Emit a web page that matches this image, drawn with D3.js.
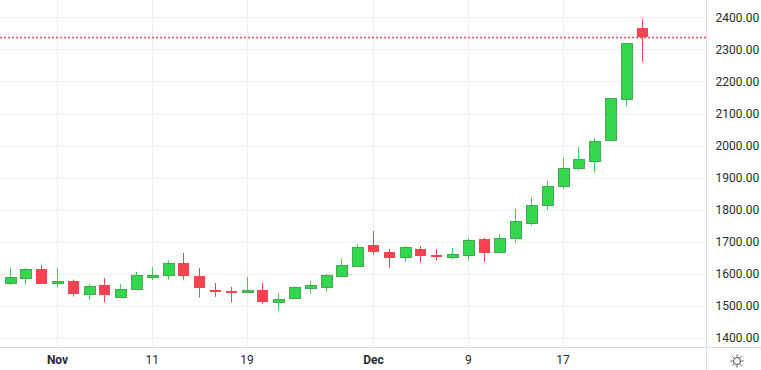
<!DOCTYPE html>
<html>
    <head>
        <title>candles</title>
        <script src="https://d3js.org/d3.v7.min.js"></script>
        <style>
            body { margin: 0; background: #ffffff; }
            #myCanvas { display: block; }
            text { font-family: Roboto, "Open Sans", sans-serif; font-size: 12px; fill: #2a2a2a; }
            .month { font-weight: bold; }
        </style>
    </head>
    <body>
        <svg id="myCanvas" width="761" height="370"></svg>
        <script>
            // bars: Sun-Thu trading days, Oct 29 - Dec 24
            dates = ["2024-10-29","2024-10-30","2024-10-31","2024-11-03","2024-11-04","2024-11-05","2024-11-06","2024-11-07",
                     "2024-11-10","2024-11-11","2024-11-12","2024-11-13","2024-11-14","2024-11-17","2024-11-18","2024-11-19",
                     "2024-11-20","2024-11-21","2024-11-24","2024-11-25","2024-11-26","2024-11-27","2024-11-28","2024-12-01",
                     "2024-12-02","2024-12-03","2024-12-04","2024-12-05","2024-12-08","2024-12-09","2024-12-10","2024-12-11",
                     "2024-12-12","2024-12-15","2024-12-16","2024-12-17","2024-12-18","2024-12-19","2024-12-22","2024-12-23","2024-12-24"];
            opens  = [1572.7,1588.3,1615.4,1574.9,1578.1,1536.6,1565.6,1529.1,1554.0,1594.6,1595.8,1634.2,1593.6,1550.9,1547.8,1546.9,
                      1550.0,1513.5,1524.1,1557.2,1560.3,1594.6,1625.7,1690.3,1668.4,1651.9,1677.8,1659.1,1650.7,1660.0,1709.0,1669.4,
                      1711.1,1757.9,1814.0,1872.0,1929.3,1949.9,2016.0,2146.3,2366.6];
            highs  = [1619.5,1618.6,1627.9,1618.6,1582.1,1568.7,1587.4,1568.7,1606.1,1621.7,1641.3,1665.3,1618.6,1571.8,1559.3,1590.5,
                      1571.8,1540.6,1562.5,1578.1,1599.9,1647.6,1693.4,1733.9,1677.8,1687.1,1687.1,1677.8,1680.9,1711.1,1712.1,1723.6,
                      1802.5,1836.8,1889.7,1961.4,1995.7,2023.8,2148.0,2321.0,2394.7];
            lows   = [1565.6,1566.5,1567.5,1557.2,1529.1,1519.8,1510.4,1526.0,1550.9,1580.2,1582.1,1582.1,1526.0,1528.2,1510.4,1538.5,
                      1506.4,1485.5,1523.0,1538.5,1544.7,1591.5,1622.6,1660.0,1619.5,1638.2,1635.1,1641.3,1644.4,1641.3,1638.2,1663.1,
                      1697.4,1750.4,1799.4,1865.7,1921.9,1915.6,2015.0,2123.5,2261.6];
            closes = [1590.5,1615.4,1568.7,1578.1,1538.5,1562.5,1535.3,1553.1,1596.7,1596.7,1634.2,1594.6,1557.2,1546.9,1544.7,1550.9,
                      1513.5,1521.9,1559.3,1565.6,1596.7,1627.9,1684.0,1669.4,1650.7,1683.0,1656.9,1652.9,1661.3,1705.8,1666.3,1713.0,
                      1764.1,1814.0,1873.2,1929.3,1957.4,2013.5,2147.5,2320.5,2340.0];

            priceTicks = [1400, 1500, 1600, 1700, 1800, 1900, 2000, 2100, 2200, 2300, 2400];
            timeTickDates = ["2024-11-03", "2024-11-11", "2024-11-19", "2024-12-01", "2024-12-09", "2024-12-17"];
            timeTickLabels = ["Nov", "11", "19", "Dec", "9", "17"];
            lastPrice = closes[closes.length - 1];

            upColor = "#32d74b";
            upBorder = "#46a852";
            downColor = "#f7434f";

            svg = d3.select("#myCanvas");
            w = 761; h = 370;
            plotRight = 706.5;
            plotBottom = 347.5;

            x = d3.scaleLinear([0, dates.length - 1], [9.6, 641.6]);
            y = d3.scaleLinear([1400, 2400], [338, 17.3]);

            data = dates.map((d, i) => ({date: d, i: i, o: opens[i], h: highs[i], l: lows[i], c: closes[i]}));

            // grid
            svg.append("g")
                .selectAll("line")
                .data(priceTicks)
                .join("line")
                    .attr("x1", 0).attr("x2", plotRight)
                    .attr("y1", d => Math.round(y(d)) + 0.5)
                    .attr("y2", d => Math.round(y(d)) + 0.5)
                    .attr("stroke", "#efefef");

            svg.append("g")
                .selectAll("line")
                .data(timeTickDates)
                .join("line")
                    .attr("x1", d => Math.round(x(dates.indexOf(d))) + 0.5)
                    .attr("x2", d => Math.round(x(dates.indexOf(d))) + 0.5)
                    .attr("y1", 0).attr("y2", plotBottom)
                    .attr("stroke", "#efefef");

            // last price line
            svg.append("line")
                .attr("x1", 0).attr("x2", plotRight)
                .attr("y1", Math.round(y(lastPrice)) + 0.5)
                .attr("y2", Math.round(y(lastPrice)) + 0.5)
                .attr("stroke", downColor)
                .attr("stroke-width", 1.3)
                .attr("stroke-dasharray", "2,2");

            // candles
            candle = svg.append("g")
                .selectAll("g")
                .data(data)
                .join("g");

            candle.append("line")
                .attr("x1", d => Math.round(x(d.i)) + 0.5)
                .attr("x2", d => Math.round(x(d.i)) + 0.5)
                .attr("y1", d => y(d.h))
                .attr("y2", d => y(d.l))
                .attr("stroke", d => d.c >= d.o ? upColor : downColor)
                .attr("stroke-width", 1);

            candle.append("rect")
                .attr("x", d => Math.round(x(d.i)) - 5)
                .attr("y", d => Math.round(y(Math.max(d.o, d.c))))
                .attr("width", 11)
                .attr("height", d => Math.max(2, Math.round(Math.abs(y(d.o) - y(d.c)))))
                .attr("fill", d => d.c >= d.o ? upColor : downColor)
                .attr("stroke", d => d.c >= d.o ? upBorder : "none")
                .attr("stroke-width", 1)
                .attr("shape-rendering", "crispEdges");

            // axis borders
            svg.append("line")
                .attr("x1", 0).attr("x2", w)
                .attr("y1", plotBottom).attr("y2", plotBottom)
                .attr("stroke", "#dcdcdc");
            svg.append("line")
                .attr("x1", plotRight).attr("x2", plotRight)
                .attr("y1", 0).attr("y2", h)
                .attr("stroke", "#dcdcdc");

            // price axis
            priceAxis = d3.axisRight(y)
                .tickValues(priceTicks)
                .tickFormat(d3.format(".2f"))
                .tickSize(0)
                .tickPadding(9);
            gy = svg.append("g")
                .attr("transform", "translate(" + plotRight + ",0)")
                .call(priceAxis);
            gy.select(".domain").remove();
            gy.selectAll("text").attr("fill", "#2a2a2a").style("font-size", "12px").style("font-family", "Roboto, sans-serif");

            // time axis
            timeAxis = d3.axisBottom(x)
                .tickValues(timeTickDates.map(d => dates.indexOf(d)))
                .tickFormat((d, i) => timeTickLabels[i])
                .tickSize(0)
                .tickPadding(8);
            gx = svg.append("g")
                .attr("transform", "translate(0," + plotBottom + ")")
                .call(timeAxis);
            gx.select(".domain").remove();
            gx.selectAll("text")
                .attr("fill", "#2a2a2a")
                .style("font-size", "12px")
                .style("font-family", "Roboto, sans-serif")
                .style("font-weight", (d, i) => isNaN(+timeTickLabels[i]) ? "bold" : "normal");

            // sun icon
            sun = svg.append("g")
                .attr("transform", "translate(737,361)")
                .attr("stroke", "#444")
                .attr("fill", "none")
                .attr("stroke-width", 1);
            sun.append("circle").attr("r", 3.5);
            sun.selectAll("line.ray")
                .data(d3.range(8))
                .join("line")
                    .attr("class", "ray")
                    .attr("x1", d => Math.cos(d * Math.PI / 4) * 4.5)
                    .attr("y1", d => Math.sin(d * Math.PI / 4) * 4.5)
                    .attr("x2", d => Math.cos(d * Math.PI / 4) * 6.5)
                    .attr("y2", d => Math.sin(d * Math.PI / 4) * 6.5);
        </script>
    </body>
</html>
